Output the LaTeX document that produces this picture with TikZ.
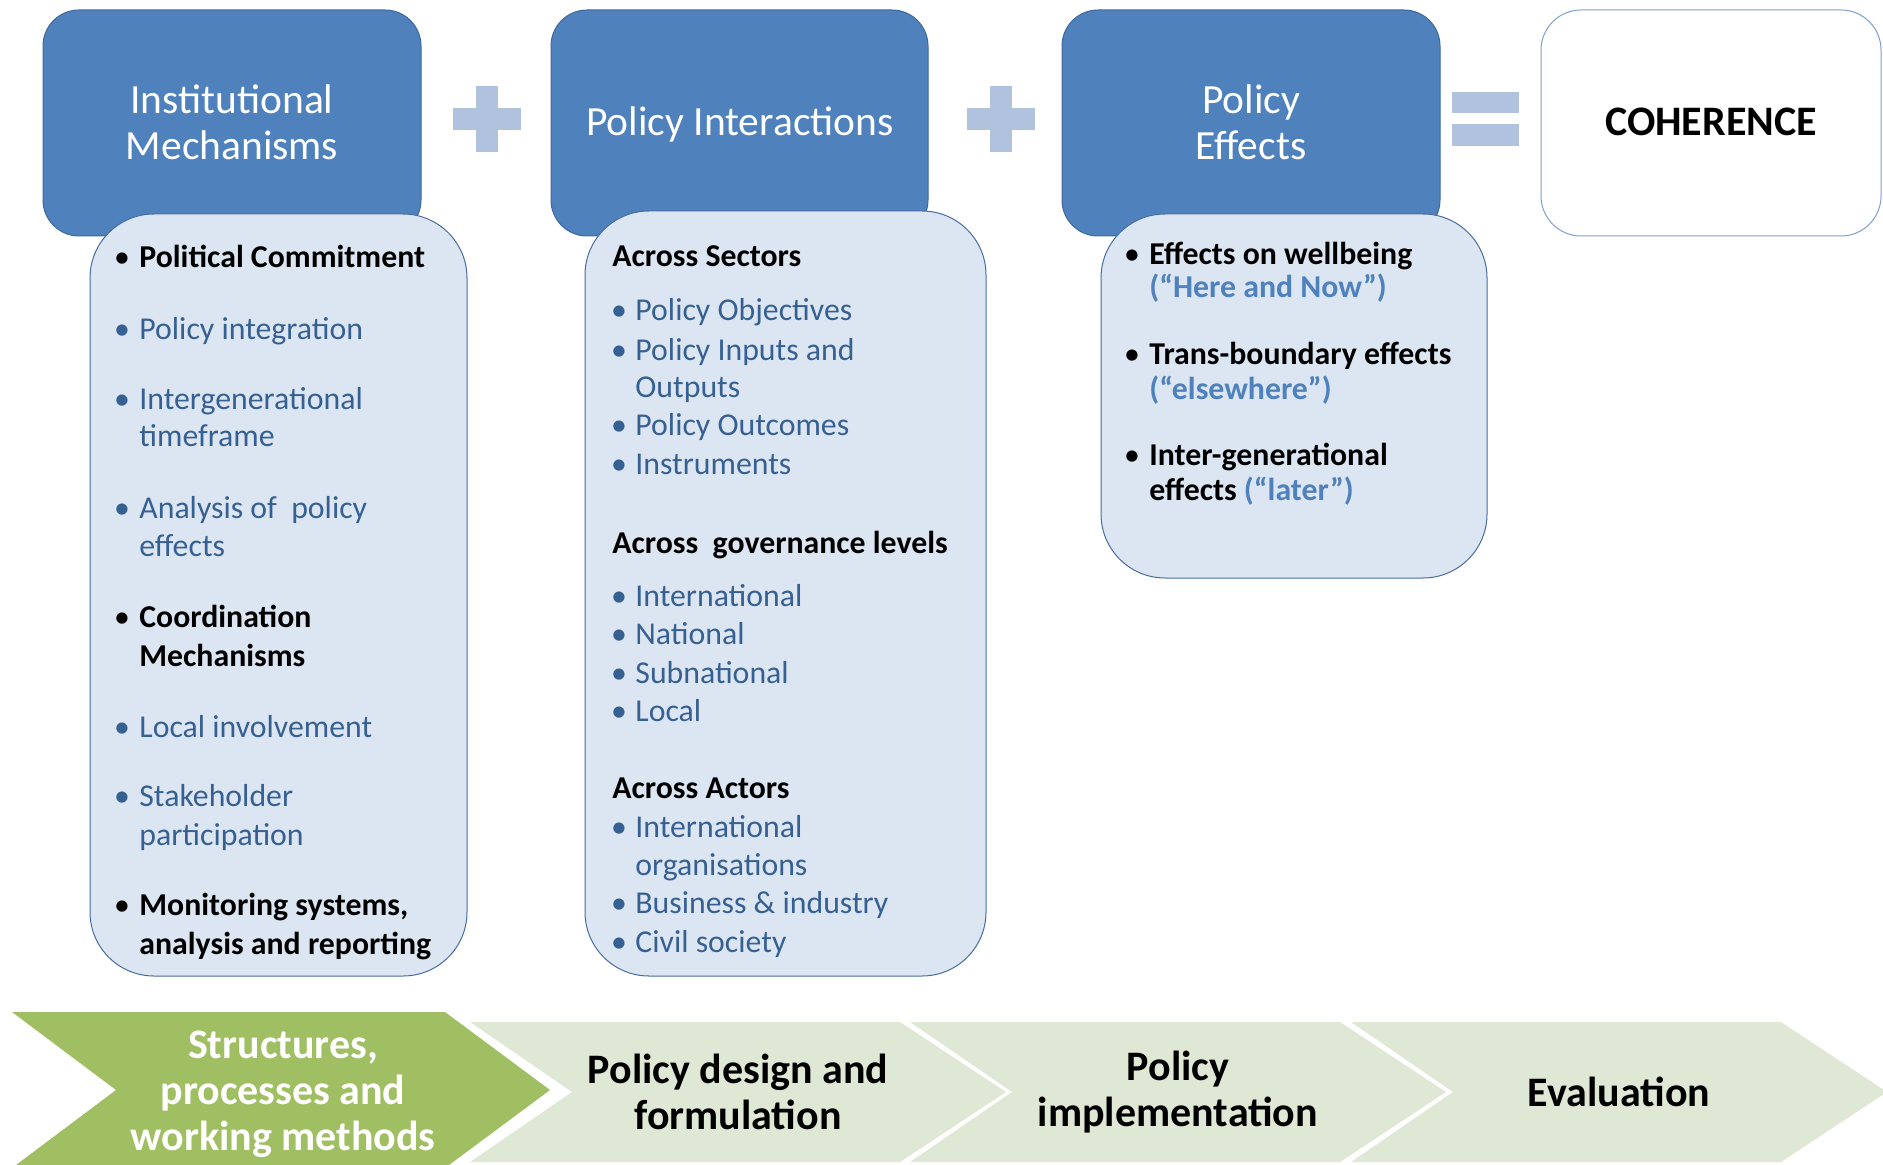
\documentclass[tikz,border=0pt]{standalone}
\usepackage{fontspec}
\setmainfont{Carlito}
\usepackage{tikz}
\usetikzlibrary{positioning}

\definecolor{boxblue}{HTML}{4F81BD}
\definecolor{boxedge}{HTML}{3E699C}
\definecolor{listfill}{HTML}{DCE6F2}
\definecolor{listedge}{HTML}{476C9F}
\definecolor{itemblue}{HTML}{376092}
\definecolor{quoteblue}{HTML}{4F81BD}
\definecolor{signblue}{HTML}{B0C2DD}
\definecolor{cohedge}{HTML}{7EA0CE}
\definecolor{stepgreen}{HTML}{A0BF62}
\definecolor{steplight}{HTML}{DFE7D5}

\tikzset{
  titlebox/.style={fill=boxblue,draw=boxedge,line width=0.5pt,rounded corners=18pt},
  listbox/.style={fill=listfill,draw=listedge,line width=0.5pt,rounded corners=32pt},
  title/.style={text=white,align=center,font=\fontsize{20.75}{23}\selectfont},
  item/.style={anchor=base west,inner sep=0,text=itemblue,font=\fontsize{15.9}{19}\selectfont},
  bolditem/.style={item,text=black,font=\fontsize{15.9}{19}\selectfont\bfseries},
  dot/.style={anchor=base,inner sep=0,text=itemblue,font=\fontsize{15.9}{19}\selectfont},
  bolddot/.style={dot,text=black},
  steptext/.style={align=center,font=\fontsize{21}{23}\selectfont\bfseries}
}

\begin{document}
\begin{tikzpicture}[x=0.5pt,y=-0.5pt]
	\useasboundingbox (0,0) rectangle (1883,1165);
	% top row
	\draw[titlebox] (43,10) rectangle (421,236); %institutional
	\draw[titlebox] (551,10) rectangle (928,236); %interactions
	\draw[titlebox] (1062,10) rectangle (1440,236); %effects
	\draw[draw=cohedge,fill=white,line width=0.5pt,rounded corners=20pt] (1541,10) rectangle (1881,236); %coherence
	\foreach \x in {487,1001} {
		\fill[signblue] (\x-34,108) rectangle (\x+34,130);
		\fill[signblue] (\x-11,86) rectangle (\x+11,152);
	}
	\fill[signblue] (1452,92) rectangle (1519,113);
	\fill[signblue] (1452,124) rectangle (1519,146);
	\node[title] (inst) at (232,122) {Institutional\\Mechanisms};
	\node[title] (inter) at (740,124) {Policy Interactions};
	\node[title] (eff) at (1251,122) {Policy\\Effects};
	\node[font=\fontsize{21}{23}\selectfont\bfseries] (coh) at (1711,122) {COHERENCE};
	% list boxes
	\draw[listbox] (90,214) rectangle (467,976);
	\draw[listbox] (585,211) rectangle (986,976);
	\draw[listbox] (1101,214) rectangle (1487,578);
	% institutional mechanisms
	\foreach \y/\t [count=\i] in {268/Political Commitment, 627/Coordination, 666/Mechanisms, 915/{Monitoring systems,}, 954/analysis and reporting} {
		\node[bolditem] (im\i) at (139,\y) {\t};
	}
	\foreach \y/\t [count=\i] in {340/Policy integration, 410/Intergenerational, 447/timeframe, 518/Analysis of\ \ policy, 556/effects, 737/Local involvement, 806/Stakeholder, 845/participation} {
		\node[item] (ir\i) at (139,\y) {\t};
	}
	\foreach \y [count=\i] in {268,627,915} { \node[bolddot] (ib\i) at (122,\y) {•}; }
	\foreach \y [count=\i] in {340,410,518,737,806} { \node[dot] (id\i) at (122,\y) {•}; }
	% policy interactions
	\foreach \y/\t [count=\i] in {267/Across Sectors, 553/Across\ \ governance levels, 798/Across Actors} {
		\node[bolditem] (ph\i) at (612,\y) {\t};
	}
	\foreach \y/\t [count=\i] in {321/Policy Objectives, 361/Policy Inputs and, 398/Outputs, 436/Policy Outcomes, 475/Instruments, 606/International, 644/National, 683/Subnational, 721/Local, 837/International, 875/organisations, 913/Business \& industry, 952/Civil society} {
		\node[item] (pr\i) at (635,\y) {\t};
	}
	\foreach \y [count=\i] in {321,361,436,475,606,644,683,721,837,913,952} { \node[dot] (pd\i) at (619,\y) {•}; }
	% policy effects
	\foreach \y/\t [count=\i] in {265/Effects on wellbeing, 365/Trans-boundary effects, 466/Inter-generational, 501/{effects \textcolor{quoteblue}{(“later”)}}} {
		\node[bolditem] (eb\i) at (1149,\y) {\t};
	}
	\foreach \y/\t [count=\i] in {298/(“Here and Now”), 400/(“elsewhere”)} {
		\node[bolditem,text=quoteblue] (eq\i) at (1149,\y) {\t};
	}
	\foreach \y [count=\i] in {265,365,466} { \node[bolddot] (ed\i) at (1132,\y) {•}; }
	% process steps
	\fill[stepgreen] (12,1012) -- (445,1012) -- (550,1090) -- (445,1168) -- (12,1168) -- (116,1090) -- cycle;
	\node[steptext,text=white] (s0) at (283,1094) {Structures,\\processes and\\working methods};
	\foreach \x/\t [count=\i] in {470/{Policy design and\\formulation}, 910/{Policy\\implementation}, 1351/Evaluation} {
		\fill[steplight] (\x,1022) -- (\x+430,1022) -- (\x+536,1092) -- (\x+430,1162) -- (\x,1162) -- (\x+102,1092) -- cycle;
		\node[steptext] (s\i) at (\x+268,1092) {\t};
	}
\end{tikzpicture}
\end{document}
